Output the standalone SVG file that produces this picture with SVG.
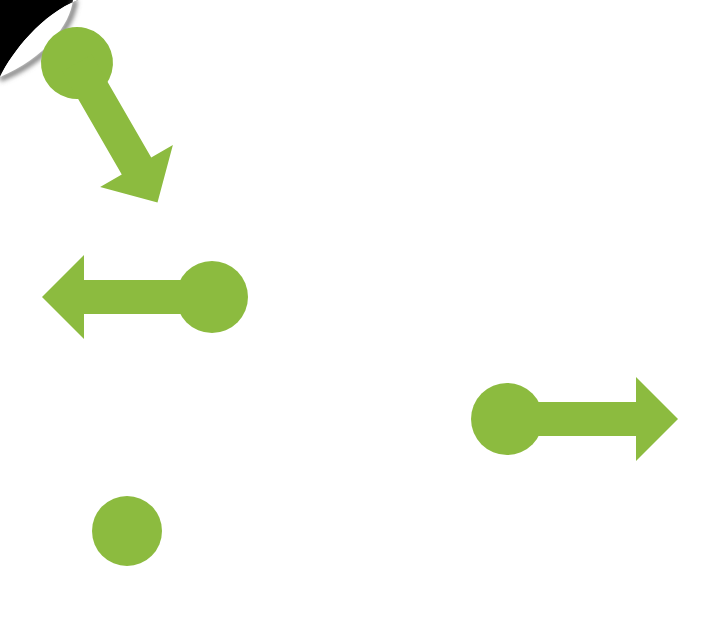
<svg xmlns="http://www.w3.org/2000/svg" width="720" height="620" viewBox="0 0 720 620">
  <defs>
    <style>
      .g { fill: #8CBB3F; }
    </style>
    <filter id="blur" x="-30%" y="-30%" width="160%" height="160%">
      <feGaussianBlur stdDeviation="2.5"/>
    </filter>
  </defs>
  <rect width="720" height="620" fill="#ffffff"/>
  <g id="page-curl">
    <path d="M0,0 H78 C42,14 12,52 0,77 Z" fill="#000000"/>
    <path d="M0,79 C46,61 72,27 75,0" fill="none" stroke="#707070" stroke-width="5" filter="url(#blur)"/>
    <path d="M78,0 C42,14 12,52 0,77 C45,58 70,25 73,0 Z" fill="#ffffff"/>
  </g>
  <g id="connectors"></g>
  <g id="arrow-diagonal" transform="translate(77,63) rotate(60)">
    <circle class="g" cx="0" cy="0" r="36"/>
    <polygon class="g" points="0,-17 119,-17 119,-42 161,0 119,42 119,17 0,17"/>
  </g>
  <g id="arrow-left" transform="translate(212,297) rotate(180)">
    <circle class="g" cx="0" cy="0" r="36"/>
    <polygon class="g" points="0,-17 128,-17 128,-42 170,0 128,42 128,17 0,17"/>
  </g>
  <g id="arrow-right" transform="translate(507,419)">
    <circle class="g" cx="0" cy="0" r="36"/>
    <polygon class="g" points="0,-17 129,-17 129,-42 171,0 129,42 129,17 0,17"/>
  </g>
  <g id="dot">
    <circle class="g" cx="127" cy="531" r="35"/>
  </g>
</svg>
